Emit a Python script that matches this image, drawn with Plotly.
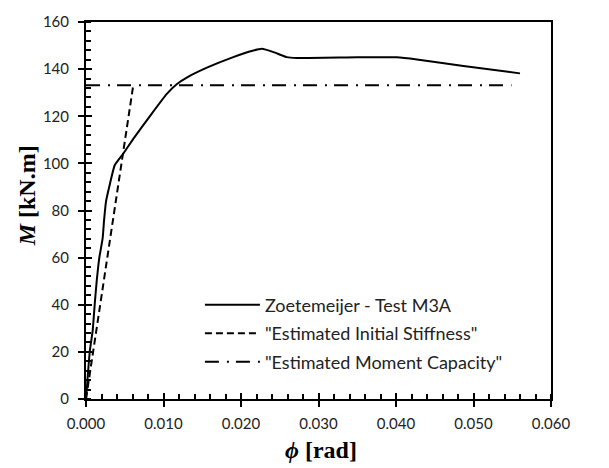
import plotly.graph_objects as go

# Test curve (Zoetemeijer - Test M3A)
phi_test = [0, 0.0005, 0.00086, 0.00116, 0.00138, 0.00172, 0.00215, 0.00232, 0.00258,
            0.0031, 0.0037, 0.0048, 0.0061, 0.0083, 0.0104, 0.0117, 0.013, 0.0156,
            0.019, 0.0215, 0.0227, 0.0242, 0.0259, 0.0272, 0.035, 0.0401, 0.0427,
            0.0487, 0.056]
m_test = [0, 20.6, 29, 41.7, 50, 60, 68.3, 75.4, 83.8,
          91.5, 99.2, 104.1, 110.4, 120.3, 129.4, 133.6, 136.4, 140.6,
          145.1, 147.8, 148.6, 147.2, 145.1, 144.7, 145, 145, 144.1,
          141.3, 138.2]

# Estimated initial stiffness
phi_stiff = [0, 0.0061]
m_stiff = [0, 133.2]

# Estimated moment capacity
phi_cap = [0, 0.0549]
m_cap = [133.2, 133.2]

x_ticks = [0, 0.01, 0.02, 0.03, 0.04, 0.05, 0.06]
x_ticklabels = ["0.000", "0.010", "0.020", "0.030", "0.040", "0.050", "0.060"]
y_ticks = [0, 20, 40, 60, 80, 100, 120, 140, 160]

names = ["Zoetemeijer - Test M3A", "\"Estimated Initial Stiffness\"", "\"Estimated Moment Capacity\""]

fig = go.Figure()
fig.add_trace(go.Scatter(x=phi_test, y=m_test, mode="lines", name=names[0],
                         line=dict(color="black", width=2, shape="spline", smoothing=0.4),
                         legendgroup="a"))
fig.add_trace(go.Scatter(x=phi_stiff, y=m_stiff, mode="lines", name=names[1],
                         line=dict(color="black", width=2, dash="7px,4px"), legendgroup="b"))
fig.add_trace(go.Scatter(x=phi_cap, y=m_cap, mode="lines", name=names[2],
                         line=dict(color="black", width=2, dash="14px,8px,2px,7px"), legendgroup="c"))
# overlay axes for inside part of major ticks
fig.add_trace(go.Scatter(x=[None], y=[None], xaxis="x2", yaxis="y2", showlegend=False,
                         hoverinfo="skip"))

tickfont = dict(family="Lato", size=15, color="#222")
fig.update_layout(
    width=609, height=468,
    margin=dict(l=86, r=58, t=18, b=69),
    paper_bgcolor="white", plot_bgcolor="white",
    showlegend=True,
    legend=dict(x=0.245, y=0.298, xanchor="left", yanchor="top", bgcolor="rgba(0,0,0,0)",
                font=dict(family="Lato", size=18, color="#222"), itemwidth=55,
                tracegroupgap=2),
    xaxis=dict(range=[0, 0.06], tickvals=x_ticks, ticktext=x_ticklabels,
               ticks="outside", ticklen=6, tickwidth=2, tickcolor="black",
               minor=dict(ticks="inside", dtick=0.002, ticklen=5, tickwidth=1.5, tickcolor="black"),
               showline=True, linewidth=2, linecolor="black", mirror=True,
               showgrid=False, zeroline=False, tickfont=tickfont, ticklabelstandoff=4),
    yaxis=dict(range=[0, 160], tickvals=y_ticks,
               ticks="outside", ticklen=6, tickwidth=2, tickcolor="black",
               minor=dict(ticks="inside", dtick=4, ticklen=5, tickwidth=1.5, tickcolor="black"),
               showline=True, linewidth=2, linecolor="black", mirror=True,
               showgrid=False, zeroline=False, tickfont=tickfont, ticklabelstandoff=6),
    xaxis2=dict(overlaying="x", anchor="y2", range=[0, 0.06], tickvals=x_ticks,
                ticks="inside", ticklen=6, tickwidth=2, tickcolor="black",
                showticklabels=False, showgrid=False, zeroline=False, showline=False),
    yaxis2=dict(overlaying="y", anchor="x2", range=[0, 160], tickvals=y_ticks,
                ticks="inside", ticklen=6, tickwidth=2, tickcolor="black",
                showticklabels=False, showgrid=False, zeroline=False, showline=False),
    annotations=[
        dict(text="<b><i>ϕ</i> [rad]</b>", x=0.505, y=-0.135, xref="paper", yref="paper",
             xanchor="center", yanchor="middle", showarrow=False,
             font=dict(family="Liberation Serif", size=24, color="black")),
        dict(text="<b><i>M</i> [kN.m]</b>", x=-0.127, y=0.54, xref="paper", yref="paper",
             xanchor="center", yanchor="middle", showarrow=False, textangle=-90,
             font=dict(family="Liberation Serif", size=24, color="black")),
    ],
)

fig.write_html("out.html")
